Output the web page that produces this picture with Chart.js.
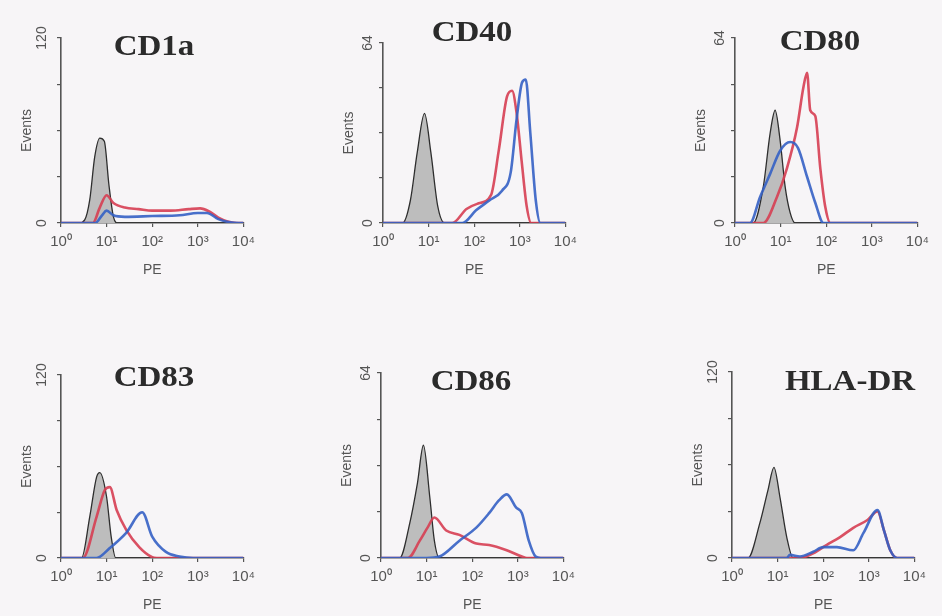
<!DOCTYPE html>
<html>
<head>
<meta charset="utf-8">
<script src="https://cdn.jsdelivr.net/npm/chart.js@4.4.1/dist/chart.umd.min.js"></script>
<style>
    html, body { margin: 0; padding: 0; background: #f7f5f7; }
    body { width: 942px; height: 616px; position: relative; overflow: hidden; }
    .panel { position: absolute; }
</style>
</head>
<body>
<script>
// x = log10(PE) in decades (10^0 .. 10^4), y = events
const decadeTicks = [0, 1, 2, 3, 4];
const markers = ['CD1a', 'CD40', 'CD80', 'CD83', 'CD86', 'HLA-DR'];
const yMaxima = [120, 64, 64, 120, 64, 120];

const cd1aIso  = [[0,0],[0.4,0],[0.52,2],[0.63,15],[0.74,43],[0.85,55],[0.95,53],[1.05,25],[1.15,4],[1.25,0],[4,0]];
const cd1aRed  = [[0,0],[0.7,0],[0.85,10],[1.0,18],[1.15,13],[1.4,10],[1.7,9],[2.0,8],[2.4,8],[2.8,9],[3.05,9.5],[3.25,7.5],[3.45,3.5],[3.65,1],[3.85,0],[4,0]];
const cd1aBlue = [[0,0],[0.75,0],[0.9,5],[1.0,8],[1.15,5],[1.4,4],[2.0,4.5],[2.6,5],[3.0,6.5],[3.2,6.5],[3.45,2.5],[3.7,0.5],[3.9,0],[4,0]];

const cd40Iso  = [[0,0],[0.43,0],[0.6,8],[0.75,25],[0.91,39],[1.05,25],[1.2,6],[1.35,0],[4,0]];
const cd40Red  = [[0,0],[1.52,0],[1.83,5],[2.1,7],[2.37,10],[2.54,26],[2.72,45],[2.83,47],[2.93,39],[3.04,22],[3.15,6],[3.25,0],[4,0]];
const cd40Blue = [[0,0],[1.74,0],[2.04,4.5],[2.33,8],[2.61,11.5],[2.8,18],[2.93,37],[3.05,50],[3.13,51],[3.23,32],[3.35,8],[3.45,0],[4,0]];

const cd80Iso  = [[0,0],[0.4,0],[0.62,12.5],[0.77,31],[0.88,39],[0.99,28.5],[1.1,12.5],[1.21,3.5],[1.32,0],[4,0]];
const cd80Red  = [[0,0],[0.62,0],[0.92,9],[1.14,19],[1.36,33],[1.5,47],[1.58,52],[1.65,39],[1.76,37],[1.87,19],[1.98,5.5],[2.09,0],[4,0]];
const cd80Blue = [[0,0],[0.33,0],[0.55,9],[0.77,17],[0.99,25],[1.21,28],[1.38,26],[1.58,16],[1.76,7],[1.94,0],[4,0]];

const cd83Iso  = [[0,0],[0.45,0],[0.63,27],[0.78,53],[0.85,56],[1.0,40],[1.1,14],[1.2,0],[4,0]];
const cd83Red  = [[0,0],[0.48,0],[0.78,27],[0.96,44.5],[1.07,46.5],[1.22,31.5],[1.43,18.5],[1.72,7],[2.0,0.5],[2.1,0],[4,0]];
const cd83Blue = [[0,0],[0.78,0],[1.07,6.5],[1.43,16.5],[1.78,30],[2.0,14],[2.3,4],[2.6,1],[2.9,0],[4,0]];

const cd86Iso  = [[0,0],[0.41,0],[0.63,12],[0.8,26],[0.93,39],[1.07,21],[1.17,6],[1.28,0],[4,0]];
const cd86Red  = [[0,0],[0.59,0],[0.85,6],[1.02,10.5],[1.17,14],[1.43,9.5],[1.72,8],[2.09,5],[2.37,4.5],[2.74,2.8],[3.09,0.5],[3.2,0],[4,0]];
const cd86Blue = [[0,0],[1.0,0],[1.28,0.5],[1.72,6],[2.09,10.5],[2.37,15.5],[2.59,20],[2.76,22],[2.96,17.5],[3.09,15.5],[3.24,6],[3.39,0.5],[3.5,0],[4,0]];

const hladrIso  = [[0,0],[0.35,0],[0.61,22.5],[0.79,44],[0.92,58.5],[1.05,39.5],[1.2,13.5],[1.34,0],[4,0]];
const hladrRed  = [[0,0],[1.49,0],[1.78,3],[2.08,8.5],[2.37,13.5],[2.66,19.5],[2.97,24.5],[3.19,30],[3.33,18],[3.47,5],[3.62,0],[4,0]];
const hladrBlue = [[0,0],[1.2,0],[1.27,2],[1.49,1],[1.78,4],[2.0,7],[2.3,7],[2.66,5],[2.88,16],[3.19,31],[3.33,18],[3.47,5],[3.62,0],[4,0]];

const isoSeries  = [cd1aIso, cd40Iso, cd80Iso, cd83Iso, cd86Iso, hladrIso];
const redSeries  = [cd1aRed, cd40Red, cd80Red, cd83Red, cd86Red, hladrRed];
const blueSeries = [cd1aBlue, cd40Blue, cd80Blue, cd83Blue, cd86Blue, hladrBlue];

// page layout: plot area of each panel + title position (page px)
const AREA_W = 183, Y_AXIS_W = 61, X_AXIS_H = 65;
const panelLayout = [
    { row: 0,   left: 61,  top: 38,  bottom: 223, titleX: 154, titleY: 47 },
    { row: 0,   left: 383, top: 43,  bottom: 223, titleX: 472, titleY: 33 },
    { row: 0,   left: 735, top: 38,  bottom: 223, titleX: 820, titleY: 42 },
    { row: 335, left: 61,  top: 375, bottom: 558, titleX: 154, titleY: 378 },
    { row: 335, left: 381, top: 373, bottom: 558, titleX: 471, titleY: 382 },
    { row: 335, left: 732, top: 372, bottom: 558, titleX: 850, titleY: 382 }
];

const SUP = ['\u2070', '\u00b9', '\u00b2', '\u00b3', '\u2074'];
const AXIS_COLOR = '#555';
const sansFont = '"Liberation Sans", Arial, sans-serif';

// bold serif marker name, drawn a bit wider like the scanned figure
const panelTitle = {
    id: 'panelTitle',
    afterDraw(chart, args, opts) {
        const ctx = chart.ctx;
        ctx.save();
        ctx.translate(opts.x, opts.y);
        ctx.scale(1.1, 1);
        ctx.font = 'bold 30px "Liberation Serif", "Times New Roman", serif';
        ctx.fillStyle = '#2b2b2b';
        ctx.textAlign = 'center';
        ctx.textBaseline = 'middle';
        ctx.fillText(opts.text, 0, 0);
        ctx.restore();
    }
};

function makePanel(i) {
    const lay = panelLayout[i];
    const yMax = yMaxima[i];

    const canvasLeft = lay.left - Y_AXIS_W;
    const width = Y_AXIS_W + AREA_W + 17;
    const height = lay.bottom - lay.row + X_AXIS_H;

    const div = document.createElement('div');
    div.className = 'panel';
    div.style.left = canvasLeft + 'px';
    div.style.top = lay.row + 'px';
    const canvas = document.createElement('canvas');
    canvas.width = width;
    canvas.height = height;
    div.appendChild(canvas);
    document.body.appendChild(div);

    new Chart(canvas, {
        type: 'line',
        data: {
            datasets: [
                {
                    label: 'isotype',
                    data: isoSeries[i],
                    order: 3,
                    borderColor: '#2e2e2e',
                    borderWidth: 1.3,
                    backgroundColor: '#bdbdbd',
                    fill: 'origin'
                },
                {
                    label: 'red',
                    data: redSeries[i],
                    order: 2,
                    borderColor: 'rgba(214, 62, 82, 0.9)',
                    borderWidth: 2.6,
                    fill: false
                },
                {
                    label: 'blue',
                    data: blueSeries[i],
                    order: 1,
                    borderColor: 'rgba(52, 96, 196, 0.9)',
                    borderWidth: 2.6,
                    fill: false
                }
            ]
        },
        options: {
            responsive: false,
            animation: false,
            layout: { padding: { left: 0, top: lay.top - lay.row, right: width - Y_AXIS_W - AREA_W, bottom: 0 } },
            elements: {
                point: { radius: 0 },
                line: { cubicInterpolationMode: 'monotone' }
            },
            plugins: {
                legend: { display: false },
                tooltip: { enabled: false },
                panelTitle: { text: markers[i], x: lay.titleX - canvasLeft, y: lay.titleY - lay.row }
            },
            scales: {
                x: {
                    type: 'linear',
                    min: 0,
                    max: 4,
                    afterFit: s => { s.height = X_AXIS_H; },
                    afterBuildTicks: s => { s.ticks = decadeTicks.map(v => ({ value: v })); },
                    border: { color: AXIS_COLOR, width: 1.6 },
                    grid: { drawOnChartArea: false, color: AXIS_COLOR, tickLength: 4, lineWidth: 1.2 },
                    ticks: {
                        callback: v => '10' + SUP[v],
                        color: '#555',
                        font: { family: sansFont, size: 15 },
                        padding: 6,
                        maxRotation: 0
                    },
                    title: {
                        display: true,
                        text: 'PE',
                        color: '#555',
                        font: { family: sansFont, size: 14 },
                        padding: { top: 0, bottom: 9 }
                    }
                },
                y: {
                    min: 0,
                    max: yMax,
                    afterFit: s => { s.width = Y_AXIS_W; },
                    border: { color: AXIS_COLOR, width: 1.6 },
                    grid: { drawOnChartArea: false, color: AXIS_COLOR, tickLength: 4, lineWidth: 1.2 },
                    ticks: {
                        stepSize: yMax / 4,
                        callback: v => (v === 0 || v === yMax) ? String(v) : '',
                        minRotation: 90,
                        maxRotation: 90,
                        crossAlign: 'center',
                        padding: 3,
                        color: '#555',
                        font: { family: sansFont, size: 14 }
                    },
                    title: {
                        display: true,
                        text: 'Events',
                        color: '#555',
                        font: { family: sansFont, size: 14 },
                        padding: { top: 19, bottom: 0 }
                    }
                }
            }
        },
        plugins: [panelTitle]
    });
}

markers.forEach((m, i) => makePanel(i));
</script>
</body>
</html>
